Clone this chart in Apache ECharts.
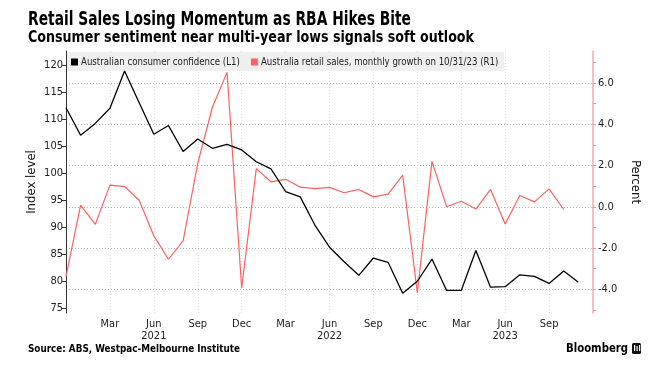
<!DOCTYPE html>
<html><head><meta charset="utf-8">
<script src="https://cdn.jsdelivr.net/npm/echarts@6/dist/echarts.min.js"></script>
<style>html,body{margin:0;padding:0;background:#fff}#c{width:660px;height:373px}</style>
</head><body><div id="c"></div>
<script>
// ---- data ----
const categories = ['Dec 2020','Jan 2021','Feb 2021','Mar 2021','Apr 2021','May 2021','Jun 2021','Jul 2021','Aug 2021','Sep 2021','Oct 2021','Nov 2021',
  'Dec 2021','Jan 2022','Feb 2022','Mar 2022','Apr 2022','May 2022','Jun 2022','Jul 2022','Aug 2022','Sep 2022','Oct 2022','Nov 2022',
  'Dec 2022','Jan 2023','Feb 2023','Mar 2023','Apr 2023','May 2023','Jun 2023','Jul 2023','Aug 2023','Sep 2023','Oct 2023','Nov 2023','Dec 2023'];
const consumerConfidence = [112.1,107.0,109.2,112.0,118.9,113.0,107.2,108.8,104.0,106.3,104.6,105.3,
  104.3,102.1,100.8,96.6,95.6,90.4,86.3,83.6,81.1,84.3,83.5,77.8,
  80.0,84.1,78.3,78.3,85.7,78.9,79.0,81.2,80.9,79.6,81.9,79.8];
const retailSales = [-3.37,0.08,-0.85,1.05,0.98,0.32,-1.41,-2.54,-1.65,2.10,4.82,6.51,
  -3.93,1.85,1.21,1.33,0.95,0.88,0.94,0.68,0.84,0.48,0.61,1.53,
  -4.16,2.20,0.00,0.27,-0.11,0.84,-0.83,0.55,0.24,0.87,-0.13];
const leftTicks = [75,80,85,90,95,100,105,110,115,120];
const rightTicks = [-4,-2,0,2,4,6];
const rightMinorTicks = [-5,-4,-3,-2,-1,0,1,2,3,4,5,6,7];
const seriesNames = ['Australian consumer confidence (L1)','Australia retail sales, monthly growth on 10/31/23 (R1)'];

const LEFT_MIN = 74.13, LEFT_MAX = 122.59, RIGHT_MIN = -5.143, RIGHT_MAX = 7.545;
const AX_FONT = '"DejaVu Sans Condensed","DejaVu Sans",sans-serif';

const mctx = document.createElement('canvas').getContext('2d');
function fitText(text, font, target) { mctx.font = font; return target / mctx.measureText(text).width; }
function txt(text, x, y, size, target, color) {
  const font = 'bold ' + size + 'px "DejaVu Sans"';
  return { type: 'text', x: x, y: y, scaleX: fitText(text, font, target), silent: true,
    style: { text: text, font: font, fill: color || '#000', verticalAlign: 'top', align: 'left' } };
}
const showMonth = (i, v) => i > 0 && i < categories.length - 1 && /^(Mar|Jun|Sep|Dec)/.test(v);

const chart = echarts.init(document.getElementById('c'), null, { renderer: 'canvas' });
chart.setOption({
  animation: false,
  backgroundColor: '#fff',
  textStyle: { fontFamily: AX_FONT },
  grid: { left: 66, right: 67, top: 51, bottom: 60, containLabel: false, outerBoundsMode: 'none' },
  legend: {
    left: 67, top: 52, backgroundColor: '#efefef', padding: [5, 6, 4, 4], itemGap: 11,
    itemWidth: 7, itemHeight: 7, icon: 'rect',
    textStyle: { fontSize: 9.6, color: '#222', fontFamily: AX_FONT, padding: [0, 0, 0, -2] },
    data: seriesNames
  },
  xAxis: {
    type: 'category', data: categories, boundaryGap: false,
    axisLine: { show: false }, axisTick: { show: false },
    axisLabel: { interval: showMonth, margin: 5, fontSize: 11, color: '#222', lineHeight: 12,
      formatter: v => { const [m, y] = v.split(' '); return m === 'Jun' ? m + '\n' + y : m; } },
    splitLine: { show: true, interval: showMonth, lineStyle: { color: '#dcdcdc', type: [1, 2], width: 1 } }
  },
  yAxis: [
    { type: 'value', position: 'left', min: LEFT_MIN, max: LEFT_MAX,
      axisLine: { show: true, lineStyle: { color: '#333', width: 1 } },
      axisTick: { show: true, length: 4, customValues: leftTicks, lineStyle: { color: '#333' } },
      axisLabel: { customValues: leftTicks, margin: 3, fontSize: 11, color: '#222' },
      splitLine: { show: false },
      name: 'Index level', nameLocation: 'middle', nameRotate: 90, nameGap: 28, nameMoveOverlap: false,
      nameTextStyle: { fontSize: 13, color: '#111', fontFamily: AX_FONT } },
    { type: 'value', position: 'right', min: RIGHT_MIN, max: RIGHT_MAX,
      axisLine: { show: true, lineStyle: { color: '#f7a9a9', width: 1.5 } },
      axisTick: { show: true, length: 3, customValues: rightMinorTicks, lineStyle: { color: '#f58f8f' } },
      axisLabel: { customValues: rightTicks, margin: 5, fontSize: 11, color: '#222', formatter: v => v.toFixed(1) },
      splitLine: { show: false },
      name: 'Percent', nameLocation: 'middle', nameRotate: -90, nameGap: 36,
      nameTextStyle: { fontSize: 13, color: '#111', fontFamily: AX_FONT } },
    { type: 'value', position: 'right', min: RIGHT_MIN, max: RIGHT_MAX,
      axisLine: { show: false }, axisTick: { show: false, customValues: rightTicks },
      axisLabel: { show: false },
      splitLine: { show: true, lineStyle: { color: '#b4b4b4', type: [1, 2], width: 1 } } }
  ],
  series: [
    { name: seriesNames[1], type: 'line', yAxisIndex: 1, data: retailSales, symbol: 'none',
      color: '#ff5f5f', lineStyle: { color: '#ff5f5f', width: 1.2 }, z: 3 },
    { name: seriesNames[0], type: 'line', yAxisIndex: 0, data: consumerConfidence, symbol: 'none',
      color: '#000', lineStyle: { color: '#000', width: 1.3 }, z: 4 }
  ],
  graphic: [
    txt('Retail Sales Losing Momentum as RBA Hikes Bite', 28, 11, 19, 383),
    txt('Consumer sentiment near multi-year lows signals soft outlook', 28, 31, 15, 446),
    txt('Source: ABS, Westpac-Melbourne Institute', 28, 344, 11, 212),
    txt('Bloomberg', 566, 342, 13, 62),
    { type: 'rect', shape: { x: 632, y: 343, width: 9, height: 11, r: 1.5 }, style: { fill: '#111' }, silent: true },
    { type: 'rect', shape: { x: 634, y: 345, width: 1.2, height: 6 }, style: { fill: '#fff' }, silent: true },
    { type: 'rect', shape: { x: 636.5, y: 346, width: 1.2, height: 5 }, style: { fill: '#fff' }, silent: true },
    { type: 'rect', shape: { x: 639, y: 345, width: 1.2, height: 6 }, style: { fill: '#fff' }, silent: true }
  ]
});
</script></body></html>
